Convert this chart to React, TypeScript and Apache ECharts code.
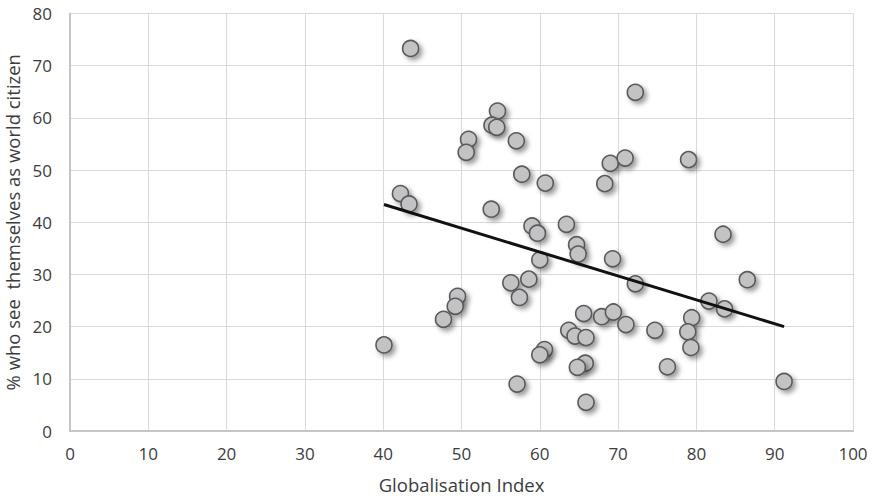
import React, { useEffect, useRef } from "react";
import * as echarts from "echarts";

const globalisationIndex: number[] = [
  43.5, 54.6, 53.9, 54.5, 50.9, 50.6, 57.0, 57.7, 60.7, 69.0, 68.3, 70.9, 72.2, 79.0,
  42.2, 43.3, 53.8, 59.0, 59.7, 63.4, 64.7, 64.9, 60.0, 69.3, 83.4,
  56.3, 58.6, 57.4, 49.5, 49.2, 47.7, 40.1,
  65.6, 67.9, 69.4, 63.7, 64.5, 65.9, 60.6, 60.0, 65.8, 64.8, 57.1, 65.9,
  72.2, 86.5, 81.6, 83.6, 71.0, 74.7, 79.4, 78.9, 79.3, 76.3, 91.2,
];
const worldCitizenPct: number[] = [
  73.3, 61.3, 58.6, 58.2, 55.9, 53.4, 55.6, 49.2, 47.5, 51.3, 47.4, 52.3, 64.9, 52.0,
  45.5, 43.5, 42.5, 39.3, 37.9, 39.6, 35.7, 33.9, 32.8, 33.0, 37.7,
  28.4, 29.1, 25.6, 25.8, 23.9, 21.4, 16.5,
  22.5, 21.9, 22.8, 19.3, 18.2, 17.9, 15.6, 14.6, 13.0, 12.2, 9.0, 5.5,
  28.2, 29.0, 24.9, 23.4, 20.4, 19.3, 21.7, 19.0, 16.0, 12.3, 9.5,
];
const trendX: number[] = [40.1, 91.2];
const trendY: number[] = [43.4, 20.0];

const FONT = "'Open Sans', sans-serif";

export default function App() {
  const ref = useRef<HTMLDivElement>(null);
  useEffect(() => {
    if (!ref.current) return;
    const chart = echarts.init(ref.current, undefined, { renderer: "svg" });
    const points = globalisationIndex.map((x, i) => [x, worldCitizenPct[i]]);
    const trend = trendX.map((x, i) => [x, trendY[i]]);
    chart.setOption({
      animation: false,
      backgroundColor: "#ffffff",
      grid: {
        left: 70,
        right: 20,
        top: 13.5,
        bottom: 69,
        containLabel: false,
        outerBoundsMode: "none",
      },
      xAxis: {
        type: "value",
        min: 0,
        max: 100,
        interval: 10,
        name: "Globalisation Index",
        nameLocation: "middle",
        nameGap: 44,
        nameTextStyle: { color: "#3c3c3c", fontSize: 18.5, fontFamily: FONT },
        axisLine: { show: true, lineStyle: { color: "#c6c6c6", width: 2 } },
        axisTick: { show: false },
        axisLabel: { color: "#3c3c3c", fontSize: 17, fontFamily: FONT, margin: 14 },
        splitLine: { show: true, lineStyle: { color: "#dadada", width: 1 } },
      },
      yAxis: {
        type: "value",
        min: 0,
        max: 80,
        interval: 10,
        name: "% who see  themselves as world citizen",
        nameLocation: "middle",
        nameGap: 48,
        nameRotate: 90,
        nameTextStyle: { color: "#3c3c3c", fontSize: 18.5, fontFamily: FONT },
        axisLine: { show: true, lineStyle: { color: "#c6c6c6", width: 2 } },
        axisTick: { show: false },
        axisLabel: { color: "#3c3c3c", fontSize: 17, fontFamily: FONT, margin: 18 },
        splitLine: { show: true, lineStyle: { color: "#dadada", width: 1 } },
      },
      series: [
        {
          type: "scatter",
          data: points,
          symbol: "circle",
          symbolSize: 16,
          itemStyle: {
            color: "#c3c3c5",
            borderColor: "#5a5a5a",
            borderWidth: 1.6,
            opacity: 1,
            shadowBlur: 5,
            shadowOffsetX: 3,
            shadowOffsetY: 3,
            shadowColor: "rgba(0,0,0,0.4)",
          },
          z: 2,
        },
        {
          type: "line",
          data: trend,
          symbol: "none",
          lineStyle: { color: "#111111", width: 3 },
          z: 3,
        },
      ],
    });
    return () => chart.dispose();
  }, []);
  return <div ref={ref} style={{ width: 873, height: 500, position: "absolute", left: 0, top: 0 }} />;
}
